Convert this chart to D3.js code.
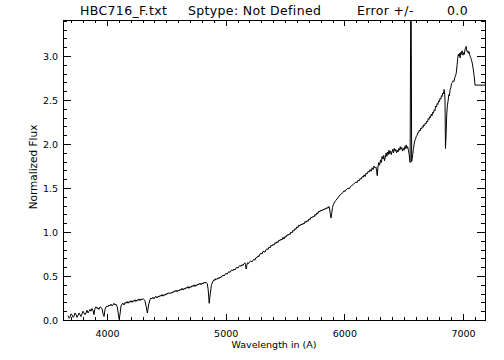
<!DOCTYPE html>
<html>
<head>
<meta charset="utf-8">
<script src="https://cdn.jsdelivr.net/npm/d3@7"></script>
<style>
  body { margin: 0; background: #fff; }
  text { font-family: "DejaVu Sans", sans-serif; fill: #000; }
</style>
</head>
<body>
<div class="chart"></div>
<script>
// ============================================================================
// Data - [wavelength (A), normalized flux]
// ============================================================================

var blueSpectrum = [
  [3671, 0.05], [3680, 0.02], [3688, 0.03], [3697, 0.07], [3705, 0.06], [3714, 0.03],
  [3722, 0.04], [3730, 0.08], [3739, 0.06], [3747, 0.03], [3755, 0.05], [3764, 0.08],
  [3772, 0.06], [3780, 0.04], [3789, 0.07], [3797, 0.10], [3806, 0.08], [3814, 0.06],
  [3823, 0.08], [3831, 0.11], [3840, 0.08], [3848, 0.10], [3857, 0.12], [3865, 0.10],
  [3873, 0.13], [3882, 0.11], [3890, 0.06], [3898, 0.13], [3907, 0.15], [3915, 0.13],
  [3924, 0.14], [3932, 0.12], [3941, 0.15], [3950, 0.14], [3958, 0.13], [3968, 0.06],
  [3975, 0.04], [3983, 0.12], [3991, 0.15], [4000, 0.16], [4008, 0.15], [4017, 0.17],
  [4025, 0.16], [4034, 0.18], [4042, 0.16], [4050, 0.17], [4059, 0.19], [4068, 0.17],
  [4076, 0.18], [4086, 0.15], [4094, 0.08], [4102, 0.01], [4109, 0.06], [4118, 0.16],
  [4126, 0.18], [4135, 0.19], [4143, 0.17], [4152, 0.20], [4160, 0.19], [4168, 0.21],
  [4177, 0.19], [4185, 0.21], [4194, 0.20], [4202, 0.22], [4211, 0.20], [4219, 0.22],
  [4228, 0.21], [4236, 0.23], [4244, 0.21], [4253, 0.23], [4261, 0.22], [4269, 0.24],
  [4278, 0.22], [4286, 0.24], [4295, 0.23], [4305, 0.24], [4320, 0.22], [4330, 0.15],
  [4340, 0.08], [4350, 0.17], [4362, 0.23], [4370, 0.25], [4378, 0.24], [4387, 0.26],
  [4395, 0.24], [4404, 0.26], [4413, 0.27], [4421, 0.25], [4430, 0.27], [4438, 0.26],
  [4446, 0.28], [4455, 0.27], [4463, 0.29], [4472, 0.27], [4480, 0.29], [4489, 0.28],
  [4497, 0.30], [4506, 0.29], [4514, 0.31], [4523, 0.30], [4531, 0.31], [4540, 0.30],
  [4548, 0.32], [4557, 0.31], [4565, 0.33], [4573, 0.32], [4581, 0.34], [4590, 0.32],
  [4598, 0.34], [4607, 0.33], [4615, 0.35], [4624, 0.34], [4632, 0.36], [4640, 0.34],
  [4649, 0.36], [4657, 0.35], [4666, 0.37], [4674, 0.36], [4682, 0.38], [4691, 0.36],
  [4699, 0.38], [4708, 0.37], [4716, 0.39], [4725, 0.38], [4733, 0.40], [4741, 0.38],
  [4750, 0.40], [4758, 0.39], [4766, 0.41], [4775, 0.40], [4783, 0.42], [4792, 0.40],
  [4800, 0.42], [4809, 0.41], [4817, 0.43], [4826, 0.42], [4834, 0.43], [4845, 0.41],
  [4852, 0.35], [4861, 0.19], [4870, 0.30], [4880, 0.40]
];

var greenSpectrum = [
  [4893, 0.44], [4902, 0.46], [4910, 0.45], [4918, 0.47], [4925, 0.46], [4935, 0.48],
  [4944, 0.47], [4952, 0.49], [4960, 0.48], [4969, 0.50], [4978, 0.51], [4986, 0.50],
  [4995, 0.52], [5003, 0.53], [5012, 0.52], [5020, 0.54], [5028, 0.55], [5036, 0.54],
  [5045, 0.56], [5053, 0.57], [5062, 0.56], [5070, 0.58], [5079, 0.57], [5087, 0.59],
  [5095, 0.60], [5104, 0.59], [5112, 0.61], [5120, 0.62], [5129, 0.61], [5137, 0.63],
  [5146, 0.62], [5154, 0.64], [5162, 0.65], [5167, 0.63], [5172, 0.58], [5178, 0.62],
  [5183, 0.65], [5192, 0.64], [5200, 0.66], [5211, 0.67], [5222, 0.66], [5230, 0.68],
  [5239, 0.69], [5247, 0.68], [5255, 0.71], [5264, 0.71], [5272, 0.73], [5280, 0.72],
  [5289, 0.75], [5297, 0.76], [5306, 0.75], [5314, 0.78], [5323, 0.78], [5331, 0.77],
  [5340, 0.80], [5348, 0.81], [5357, 0.80], [5365, 0.83], [5374, 0.82], [5382, 0.85],
  [5390, 0.84], [5399, 0.86], [5407, 0.85], [5416, 0.88], [5424, 0.87], [5432, 0.89],
  [5441, 0.88], [5450, 0.91], [5458, 0.90], [5466, 0.92], [5475, 0.91], [5483, 0.94],
  [5491, 0.92], [5500, 0.95], [5508, 0.94], [5517, 0.97], [5525, 0.96], [5534, 0.98],
  [5542, 0.97], [5550, 1.00], [5559, 0.99], [5567, 1.02], [5575, 1.01], [5584, 1.04],
  [5592, 1.03], [5600, 1.06], [5609, 1.05], [5617, 1.08], [5626, 1.07], [5634, 1.09],
  [5643, 1.08], [5651, 1.10], [5660, 1.09], [5668, 1.12], [5677, 1.11], [5685, 1.13],
  [5694, 1.12], [5702, 1.15], [5711, 1.14], [5719, 1.17], [5727, 1.16], [5736, 1.18],
  [5744, 1.17], [5752, 1.20], [5761, 1.19], [5769, 1.22], [5778, 1.21], [5786, 1.24],
  [5795, 1.23], [5803, 1.25], [5812, 1.24], [5820, 1.26], [5828, 1.25], [5837, 1.27],
  [5845, 1.26], [5853, 1.28], [5862, 1.27], [5870, 1.29], [5876, 1.26], [5882, 1.20],
  [5888, 1.16], [5894, 1.22], [5900, 1.28], [5907, 1.31], [5914, 1.33], [5922, 1.35],
  [5930, 1.36], [5938, 1.38], [5947, 1.39], [5955, 1.41], [5964, 1.42], [5972, 1.43],
  [5981, 1.44], [5989, 1.45], [5997, 1.47], [6006, 1.46], [6014, 1.48], [6023, 1.49],
  [6031, 1.50], [6040, 1.49], [6048, 1.51], [6056, 1.52], [6065, 1.53], [6073, 1.54],
  [6082, 1.55], [6090, 1.56], [6099, 1.57], [6107, 1.56], [6116, 1.59], [6124, 1.58],
  [6133, 1.61], [6141, 1.60], [6150, 1.63], [6158, 1.62], [6166, 1.65], [6175, 1.63],
  [6183, 1.67], [6191, 1.66], [6200, 1.69], [6208, 1.68], [6217, 1.71], [6225, 1.69],
  [6234, 1.73], [6242, 1.71], [6250, 1.75], [6259, 1.73], [6266, 1.74], [6272, 1.69],
  [6277, 1.64], [6283, 1.74], [6290, 1.79], [6297, 1.76], [6305, 1.82], [6312, 1.79],
  [6318, 1.86], [6325, 1.83], [6332, 1.87], [6338, 1.81], [6345, 1.85], [6352, 1.90],
  [6358, 1.86], [6364, 1.91], [6370, 1.88], [6376, 1.93], [6382, 1.89], [6389, 1.92],
  [6395, 1.88], [6401, 1.91], [6408, 1.94], [6414, 1.90], [6420, 1.95], [6427, 1.92],
  [6433, 1.94], [6440, 1.90], [6446, 1.93], [6452, 1.91], [6459, 1.95], [6465, 1.93],
  [6471, 1.97], [6477, 1.94], [6484, 1.96], [6490, 1.92], [6497, 1.95], [6503, 1.93],
  [6509, 1.97], [6515, 1.95], [6520, 1.99], [6527, 1.95], [6533, 1.97], [6540, 1.93],
  [6546, 1.88]
];

var redSpectrum = [
  [6554, 1.79], [6561, 4.30], [6567, 1.80], [6576, 1.88], [6582, 1.95], [6588, 2.00],
  [6594, 2.04], [6600, 2.06], [6607, 2.09], [6613, 2.10], [6619, 2.13], [6625, 2.13],
  [6632, 2.16], [6638, 2.15], [6644, 2.18], [6650, 2.17], [6657, 2.20], [6663, 2.19],
  [6669, 2.22], [6676, 2.21], [6682, 2.24], [6688, 2.23], [6694, 2.26], [6700, 2.25],
  [6707, 2.29], [6713, 2.28], [6719, 2.31], [6725, 2.30], [6732, 2.34], [6738, 2.32],
  [6744, 2.36], [6750, 2.35], [6757, 2.39], [6763, 2.38], [6769, 2.43], [6776, 2.42],
  [6782, 2.46], [6788, 2.45], [6794, 2.49], [6800, 2.48], [6807, 2.52], [6813, 2.51],
  [6818, 2.55], [6823, 2.54], [6829, 2.58], [6835, 2.57], [6840, 2.62], [6844, 2.60],
  [6848, 2.50], [6852, 1.95], [6857, 2.10], [6862, 2.32], [6868, 2.44], [6875, 2.50],
  [6880, 2.56], [6885, 2.55], [6891, 2.62], [6897, 2.64], [6903, 2.69], [6910, 2.70],
  [6917, 2.72], [6923, 2.71], [6929, 2.75], [6935, 2.77], [6942, 2.80], [6950, 2.90],
  [6955, 2.97], [6960, 3.02], [6966, 3.00], [6971, 3.03], [6975, 2.98], [6980, 3.04],
  [6986, 3.02], [6991, 3.06], [6996, 3.03], [7000, 3.01], [7006, 3.04], [7011, 3.02],
  [7017, 3.08], [7022, 3.09], [7026, 3.11], [7030, 3.07], [7035, 3.05], [7040, 3.06],
  [7045, 3.03], [7050, 3.05], [7055, 3.02], [7059, 3.00], [7065, 2.98], [7070, 2.96],
  [7076, 2.93], [7085, 2.86], [7093, 2.78], [7101, 2.67], [7185, 2.67]
];

var xTickValues = [4000, 5000, 6000, 7000];
var yTickValues = [0.0, 0.5, 1.0, 1.5, 2.0, 2.5, 3.0];

var titleParts = ['HBC716_F.txt', 'Sptype: Not Defined', 'Error +/-', '0.0'];
var titleX = [80, 188, 357, 447];

// ============================================================================
// Create SVG
// ============================================================================

var svgWidth = 504;
var svgHeight = 360;

var margin = { top: 20, right: 19, bottom: 40, left: 63 };

var width = svgWidth - margin.left - margin.right;
var height = svgHeight - margin.top - margin.bottom;

var svg = d3.select('.chart')
  .append('svg')
  .attr('width', svgWidth)
  .attr('height', svgHeight);

var chartGroup = svg.append('g')
  .attr('transform', `translate(${margin.left}, ${margin.top})`);

// ============================================================================
// Scales and axes
// ============================================================================

var xScale = d3.scaleLinear()
  .domain([3629, 7185])
  .range([0, width]);

var yScale = d3.scaleLinear()
  .domain([0, 3.41])
  .range([height, 0]);

var xMinor = d3.range(3700, 7185, 100).filter(v => v % 1000 !== 0);
var yMinor = d3.range(1, 35).map(v => v / 10).filter(v => Math.round(v * 10) % 5 !== 0);

// bottom axis with labels
chartGroup.append('g')
  .attr('transform', `translate(0, ${height})`)
  .call(d3.axisBottom(xScale).tickValues(xTickValues).tickSize(-6).tickPadding(10).tickFormat(d3.format('d')))
  .call(g => g.select('.domain').remove());

chartGroup.append('g')
  .attr('transform', `translate(0, ${height})`)
  .call(d3.axisBottom(xScale).tickValues(xMinor).tickSize(-3).tickFormat(''))
  .call(g => g.select('.domain').remove());

// top axis, mirror ticks only
chartGroup.append('g')
  .call(d3.axisTop(xScale).tickValues(xTickValues).tickSize(-6).tickFormat(''))
  .call(g => g.select('.domain').remove());

chartGroup.append('g')
  .call(d3.axisTop(xScale).tickValues(xMinor).tickSize(-3).tickFormat(''))
  .call(g => g.select('.domain').remove());

// left axis with labels
chartGroup.append('g')
  .call(d3.axisLeft(yScale).tickValues(yTickValues).tickSize(-8).tickPadding(5).tickFormat(d3.format('.1f')))
  .call(g => g.select('.domain').remove());

chartGroup.append('g')
  .call(d3.axisLeft(yScale).tickValues(yMinor).tickSize(-4).tickFormat(''))
  .call(g => g.select('.domain').remove());

// right axis, mirror ticks only
chartGroup.append('g')
  .attr('transform', `translate(${width}, 0)`)
  .call(d3.axisRight(yScale).tickValues(yTickValues).tickSize(-8).tickFormat(''))
  .call(g => g.select('.domain').remove());

chartGroup.append('g')
  .attr('transform', `translate(${width}, 0)`)
  .call(d3.axisRight(yScale).tickValues(yMinor).tickSize(-4).tickFormat(''))
  .call(g => g.select('.domain').remove());

chartGroup.selectAll('.tick text')
  .style('font-family', '"DejaVu Sans", sans-serif')
  .style('font-size', '9.5px')
  .attr('fill', '#000');

chartGroup.selectAll('.tick line')
  .attr('stroke', '#000')
  .attr('shape-rendering', 'crispEdges');

// plot box
chartGroup.append('rect')
  .attr('x', 0)
  .attr('y', 0)
  .attr('width', width)
  .attr('height', height)
  .attr('fill', 'none')
  .attr('stroke', '#000')
  .attr('shape-rendering', 'crispEdges');

// ============================================================================
// Spectrum
// ============================================================================

chartGroup.append('clipPath')
  .attr('id', 'plot-clip')
  .append('rect')
  .attr('width', width)
  .attr('height', height);

var spectrum = blueSpectrum.concat(greenSpectrum, redSpectrum)
  .map(p => ({ w: p[0], f: p[1] }));

var line = d3.line()
  .x(d => xScale(d.w))
  .y(d => yScale(d.f));

chartGroup.append('path')
  .datum(spectrum)
  .attr('clip-path', 'url(#plot-clip)')
  .attr('fill', 'none')
  .attr('stroke', '#000')
  .attr('stroke-width', 1)
  .attr('d', line);

// ============================================================================
// Titles
// ============================================================================

svg.selectAll('.title-part')
  .data(titleParts)
  .enter()
    .append('text')
    .attr('class', 'title-part')
    .attr('x', (d, i) => titleX[i])
    .attr('y', 15)
    .style('font-size', '12.5px')
    .style('letter-spacing', '0.35px')
    .text(d => d);

svg.append('text')
  .attr('x', margin.left + width / 2)
  .attr('y', 348)
  .attr('text-anchor', 'middle')
  .style('font-size', '9.5px')
  .text('Wavelength in (A)');

svg.append('text')
  .attr('transform', `translate(37, 167) rotate(-90)`)
  .attr('text-anchor', 'middle')
  .style('font-size', '10.5px')
  .text('Normalized Flux');
</script>
</body>
</html>
